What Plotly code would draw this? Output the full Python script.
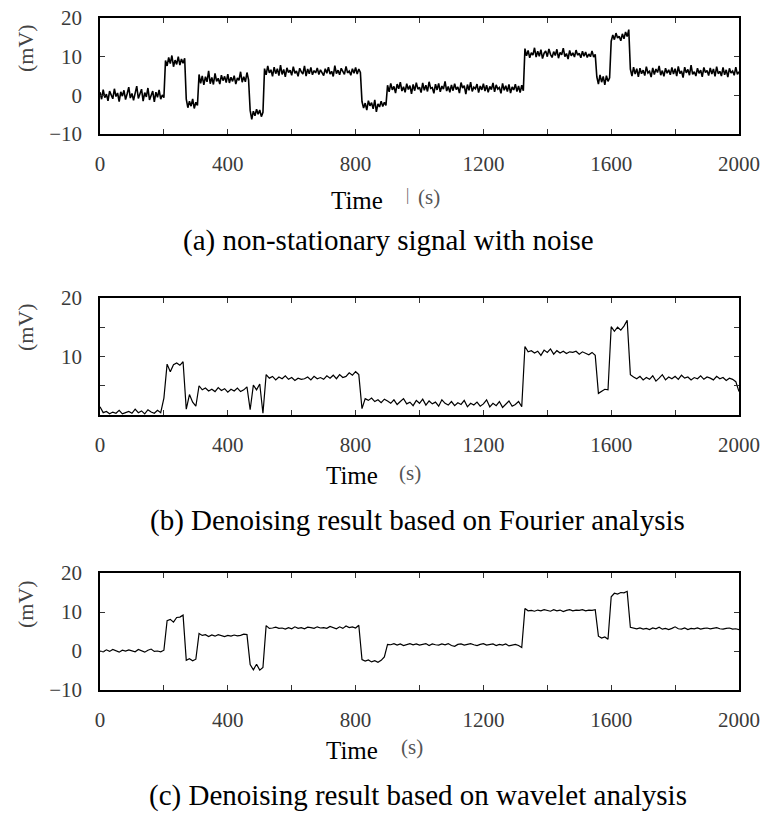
import plotly.graph_objects as go

W, H = 765, 814

# ---------------- data ----------------
time_a = list(range(0, 2001, 5))      # noisy signal, 5 s sampling
time_bc = list(range(0, 2001, 10))    # denoised signals, 10 s sampling

noisy_mv = [
    0.8, -1.0, 1.5, -0.6, 0.3, -1.4, 1.1, 0.2, -0.9, 1.7, -0.3, 0.6, -1.6, 0.9, -0.2, 1.3, -1.1, 0.4, 2.1, -0.7,
    0.5, -1.3, 1.0, 2.4, -0.8, 0.2, 1.6, -1.5, 0.7, -0.4, 1.9, -1.2, 0.3, 1.1, -1.7, 0.8, -0.5, 1.4, -1.0, 0.1,
    -0.6, 9.0, 7.6, 9.8, 8.2, 10.3, 7.4, 9.1, 8.0, 10.0, 7.8, 9.4, 8.3, 9.6, -1.0, -3.2, -1.5, -2.8, -0.9, -3.4,
    -1.8, -2.6, 5.4, 3.1, 5.0, 2.7, 4.8, 3.5, 6.3, 3.0, 4.6, 2.8, 5.7, 3.6, 4.4, 2.9, 5.2, 3.8, 4.9, 3.3,
    5.5, 3.2, 4.7, 3.6, 5.1, 2.9, 4.5, 3.9, 6.1, 3.4, 4.8, 3.5, 5.9, 4.0, -3.9, -6.2, -4.1, -5.3, -3.6, -4.9,
    -3.8, -5.5, -4.4, 6.9, 5.3, 7.6, 5.8, 6.6, 4.9, 7.3, 5.6, 6.9, 5.1, 7.8, 5.4, 6.7, 4.8, 7.1, 5.9, 6.5,
    5.2, 7.4, 5.7, 6.3, 4.9, 7.0, 6.1, 5.5, 7.6, 5.0, 6.8, 5.6, 7.2, 5.3, 6.4, 5.8, 7.1, 5.4, 6.6, 5.9,
    5.1, 6.9, 5.7, 7.3, 5.5, 6.2, 4.9, 7.7, 5.6, 6.5, 5.3, 7.0, 6.0, 5.4, 7.5, 5.8, 6.3, 5.2, 6.9, 5.7,
    7.2, 5.5, 6.8, 5.9, -1.6, -3.3, -2.0, -3.8, -1.4, -2.7, -1.9, -3.5, -1.2, -4.3, -2.2, -3.0, -1.5, -2.9, -1.8, -2.6,
    2.6, 0.9, 3.1, 1.4, 2.3, 0.6, 2.9, 1.7, 3.4, 1.1, 2.2, 0.8, 3.0, 1.5, 2.5, 0.4, 2.8, 1.2, 3.3, 1.6,
    2.1, 0.7, 3.2, 1.3, 2.6, 1.0, 3.5, 1.8, 2.0, 0.5, 2.9, 1.4, 3.1, 0.9, 2.4, 1.6, 3.6, 1.1, 2.3, 0.8,
    2.7, 1.2, 3.0, 1.5, 2.2, 0.6, 3.3, 1.9, 2.5, 0.3, 2.8, 1.3, 3.4, 1.0, 2.1, 1.7, 2.9, 0.7, 2.4, 1.4,
    3.0, 1.1, 2.6, 0.8, 2.3, 1.5, 3.2, 0.9, 2.7, 1.6, 2.0, 0.5, 3.1, 1.3, 2.5, 1.0, 2.8, 0.6, 2.2, 1.4,
    2.9, 1.0, 2.4, 0.7, 2.6, 1.2, 12.1, 10.2, 11.6, 9.7, 11.0, 10.4, 12.3, 9.9, 11.4, 10.1, 11.8, 9.5, 10.9, 11.5,
    10.0, 12.0, 10.6, 9.8, 11.3, 10.3, 11.9, 9.6, 11.1, 10.5, 12.2, 10.0, 10.8, 9.4, 11.6, 10.2, 11.0, 9.9, 11.7, 10.4,
    10.9, 9.7, 11.4, 10.1, 11.2, 9.8, 10.7, 10.0, 11.5, 9.9, 10.6, 4.8, 2.9, 5.3, 3.4, 4.9, 2.7, 5.1, 3.6, 4.5,
    14.0, 15.6, 14.4, 16.1, 14.8, 15.3, 14.1, 15.9, 14.6, 16.4, 15.2, 17.0, 6.8, 5.0, 7.3, 5.5, 6.9, 4.8, 7.0, 5.6,
    6.5, 5.1, 7.4, 5.8, 6.2, 4.7, 7.1, 5.4, 6.8, 5.9, 7.6, 5.2, 6.4, 4.9, 7.0, 5.7, 6.6, 5.3, 7.2, 5.5,
    6.9, 5.0, 7.5, 5.6, 6.3, 4.6, 7.3, 5.8, 6.7, 5.2, 7.8, 5.4, 6.1, 5.0, 7.0, 5.7, 6.5, 4.8, 7.2, 5.9,
    6.4, 5.1, 7.1, 5.5, 6.8, 4.9, 7.4, 5.6, 6.2, 5.0, 7.2, 5.3, 6.6, 4.7, 7.0, 5.8, 6.3, 5.2, 7.3, 5.4,
    6.1,
]

fourier_mv = [
    1.4, 0.4, 0.6, 0.2, 0.5, 0.3, 0.8, 0.2, 0.4, 0.6,
    0.3, 1.0, 0.4, 0.7, 0.2, 0.9, 0.5, 0.3, 0.8, 0.4,
    2.9, 8.7, 7.4, 8.6, 8.9, 8.5, 9.1, 1.0, 3.5, 2.2,
    1.5, 5.0, 4.3, 4.6, 4.1, 4.4, 4.0, 4.7, 4.2, 4.5,
    3.9, 4.4, 4.1, 4.6, 4.0, 4.3, 4.8, 0.9, 5.1, 4.3,
    5.3, 0.3, 6.9, 6.3, 6.6, 6.0, 6.5, 6.2, 6.7, 6.1,
    6.4, 5.9, 6.3, 6.1, 6.2, 6.5, 6.0, 6.6, 6.2, 6.4,
    6.1, 6.7, 6.3, 6.8, 6.2, 6.9, 6.4, 6.6, 7.2, 6.8,
    7.4, 6.9, 1.1, 2.8, 2.5, 2.9, 2.3, 2.6, 2.1, 2.7,
    2.4, 2.0, 2.6, 1.8, 2.3, 2.8, 1.9, 2.2, 1.6, 2.5,
    2.0, 2.7, 1.7, 2.4, 1.9, 2.2, 1.5, 2.6, 2.0, 1.7,
    2.3, 1.6, 2.1, 1.8, 2.5, 1.4, 2.0, 1.7, 2.2, 1.5,
    1.9, 2.6, 1.4, 2.0, 1.6, 2.3, 1.3, 1.9, 2.4, 1.5,
    1.8, 2.3, 1.4, 11.7, 10.8, 11.0, 10.6, 10.9, 10.2, 11.1,
    10.7, 11.3, 10.4, 11.0, 10.6, 10.9, 10.5, 10.8, 10.7, 10.9,
    10.4, 10.8, 10.6, 10.3, 10.7, 10.2, 3.7, 4.0, 4.4, 4.3,
    15.1, 14.3, 15.0, 14.5, 15.2, 16.2, 6.9, 6.5, 6.2, 6.6,
    6.0, 6.4, 6.1, 6.7, 5.8, 6.3, 6.9, 6.0, 6.5, 6.2,
    6.6, 6.1, 6.8, 6.3, 6.5, 6.0, 6.4, 6.2, 6.7, 6.1,
    6.5, 6.3, 6.0, 6.6, 6.2, 6.4, 5.9, 6.3, 6.1, 5.7,
    4.0,
]

wavelet_mv = [
    0.0, -0.2, 0.3, -0.1, 0.4, 0.1, -0.3, 0.2, 0.0, 0.3,
    0.1, -0.2, 0.4, 0.0, -0.3, 0.2, 0.5, -0.1, 0.0, -0.2,
    0.2, 7.8, 8.1, 7.4, 8.6, 8.7, 9.2, -2.4, -2.0, -2.5,
    -2.1, 4.5, 4.0, 4.2, 3.7, 4.1, 3.8, 4.2, 3.9, 3.7,
    4.0, 3.8, 4.1, 3.9, 4.0, 4.3, 4.2, -3.5, -4.8, -3.4,
    -4.9, -4.2, 6.5, 5.8, 5.9, 6.1, 5.8, 5.9, 5.6, 6.0,
    5.7, 6.2, 5.8, 6.0, 5.7, 6.1, 6.0, 5.8, 6.2, 5.9,
    6.0, 5.8, 6.3, 5.9, 5.7, 6.2, 5.8, 6.4, 6.0, 6.2,
    5.9, 6.6, -2.2, -2.6, -2.3, -2.8, -2.5, -2.9, -2.4, -1.5,
    1.7, 1.6, 1.9, 1.5, 1.8, 1.4, 1.7, 1.9, 1.6, 1.8,
    1.5, 1.7, 1.9, 1.4, 1.8, 1.6, 1.5, 1.8, 1.6, 1.9,
    1.4, 1.2, 1.7, 1.8, 1.5, 1.7, 1.9, 1.6, 1.4, 1.7,
    1.9, 1.5, 1.6, 1.8, 1.4, 1.7, 1.5, 1.8, 1.3, 1.6,
    1.7, 1.4, 0.9, 10.9, 10.3, 10.4, 10.2, 10.5, 10.3, 10.6,
    10.4, 10.2, 10.6, 10.3, 10.5, 10.1, 10.4, 10.6, 10.3, 10.5,
    10.4, 10.6, 10.3, 10.5, 10.4, 10.6, 3.8, 3.3, 3.6, 3.0,
    13.9, 14.8, 14.6, 15.0, 14.9, 15.3, 6.1, 5.9, 5.7, 5.9,
    5.6, 5.8, 5.5, 5.9, 5.7, 6.1, 5.6, 5.8, 5.5, 5.8,
    6.2, 5.7, 5.6, 5.9, 5.5, 5.8, 5.7, 5.9, 5.6, 5.8,
    5.9, 5.7, 5.8, 6.0, 5.7, 5.6, 5.8, 5.9, 5.6, 5.7,
    5.5,
]

x_tick_vals = [0, 200, 400, 600, 800, 1000, 1200, 1400, 1600, 1800, 2000]
x_tick_text = ["0", "", "400", "", "800", "", "1200", "", "1600", "", "2000"]
y_ticks_ac = [-10, 0, 10, 20]
y_text_ac = ["\u221210", "0", "10", "20"]
y_ticks_b = [0, 5, 10, 15, 20]
y_text_b = ["", "", "10", "", "20"]

captions = [
    "(a) non-stationary signal with noise",
    "(b) Denoising result based on Fourier analysis",
    "(c) Denoising result based on wavelet analysis",
]

# ---------------- layout helpers (page px -> paper) ----------------
def px_x(p):
    return p / W

def px_y(p):
    return 1 - p / H

X0, X1 = 100, 739
panels = [(18, 134), (298, 415), (573, 690)]  # (top px, bottom px)

TICK_FONT = dict(family="Liberation Serif", size=21, color="#3a3a3a")
TIME_FONT = dict(family="Liberation Serif", size=25, color="#000000")
CAP_FONT = dict(family="Liberation Serif", size=29, color="#000000")

fig = go.Figure()
series = [(time_a, noisy_mv), (time_bc, fourier_mv), (time_bc, wavelet_mv)]
for i, (xs, ys) in enumerate(series):
    n = "" if i == 0 else str(i + 1)
    fig.add_trace(go.Scatter(
        x=xs, y=ys, mode="lines",
        line=dict(color="black", width=1.6 if i == 0 else 1.2),
        xaxis="x" + n, yaxis="y" + n, showlegend=False, hoverinfo="skip",
    ))

layout = dict(
    template="none",
    width=W, height=H, autosize=False, margin=dict(l=0, r=0, t=0, b=0, pad=0),
    paper_bgcolor="white", plot_bgcolor="white", showlegend=False,
)
for i, (top, bot) in enumerate(panels):
    n = "" if i == 0 else str(i + 1)
    layout["xaxis" + n] = dict(
        domain=[px_x(X0), px_x(X1)], anchor="y" + n, range=[0, 2000],
        tickmode="array", tickvals=x_tick_vals, ticktext=x_tick_text,
        ticks="inside", ticklen=5, tickwidth=1, tickcolor="#333",
        showline=True, linecolor="black", linewidth=1.5, mirror="ticks",
        showgrid=False, zeroline=False, tickfont=TICK_FONT, ticklabelstandoff=10,
        ticklabeloverflow="allow", automargin=False,
    )
    if i == 1:
        yr, tv, tt = [0, 20], y_ticks_b, y_text_b
    else:
        yr, tv, tt = [-10, 20], y_ticks_ac, y_text_ac
    layout["yaxis" + n] = dict(
        domain=[px_y(bot), px_y(top)], anchor="x" + n, range=yr,
        tickmode="array", tickvals=tv, ticktext=tt,
        ticks="inside", ticklen=5, tickwidth=1, tickcolor="#333",
        showline=True, linecolor="black", linewidth=1.5, mirror="ticks",
        showgrid=False, zeroline=False, tickfont=TICK_FONT, ticklabelstandoff=12,
        ticklabeloverflow="allow", automargin=False,
    )

ylab_y = [48, 327, 604]
time_y = [200, 476, 750]
time_x = [357, 352, 352]
s_x = [429, 410, 412]
cap_y = [240, 520, 795]
cap_x = [388, 418, 418]

annotations = []
for i in range(3):
    annotations.append(dict(
        text="(mV)", x=px_x(25), y=px_y(ylab_y[i]), xref="paper", yref="paper",
        showarrow=False, textangle=-90,
        font=dict(family="Liberation Serif", size=22, color="#444"),
        xanchor="center", yanchor="middle",
    ))
    annotations.append(dict(
        text="Time", x=px_x(time_x[i]), y=px_y(time_y[i]), xref="paper", yref="paper",
        showarrow=False, font=TIME_FONT, xanchor="center", yanchor="middle",
    ))
    annotations.append(dict(
        text="(s)", x=px_x(s_x[i]), y=px_y(time_y[i] - 3), xref="paper", yref="paper",
        showarrow=False, font=dict(family="Liberation Serif", size=21, color="#555"),
        xanchor="center", yanchor="middle",
    ))
    annotations.append(dict(
        text=captions[i], x=px_x(cap_x[i]), y=px_y(cap_y[i]), xref="paper", yref="paper",
        showarrow=False, font=CAP_FONT, xanchor="center", yanchor="middle",
    ))
annotations.append(dict(
    text="|", x=px_x(407), y=px_y(195), xref="paper", yref="paper",
    showarrow=False, font=dict(family="Liberation Serif", size=16, color="#666"),
    xanchor="center", yanchor="middle",
))
layout["annotations"] = annotations

fig.update_layout(**layout)
fig.write_html(
    "out.html",
    config={"displayModeBar": False, "responsive": False},
    post_script="document.body.style.margin='0';document.body.style.overflow='hidden';",
)
